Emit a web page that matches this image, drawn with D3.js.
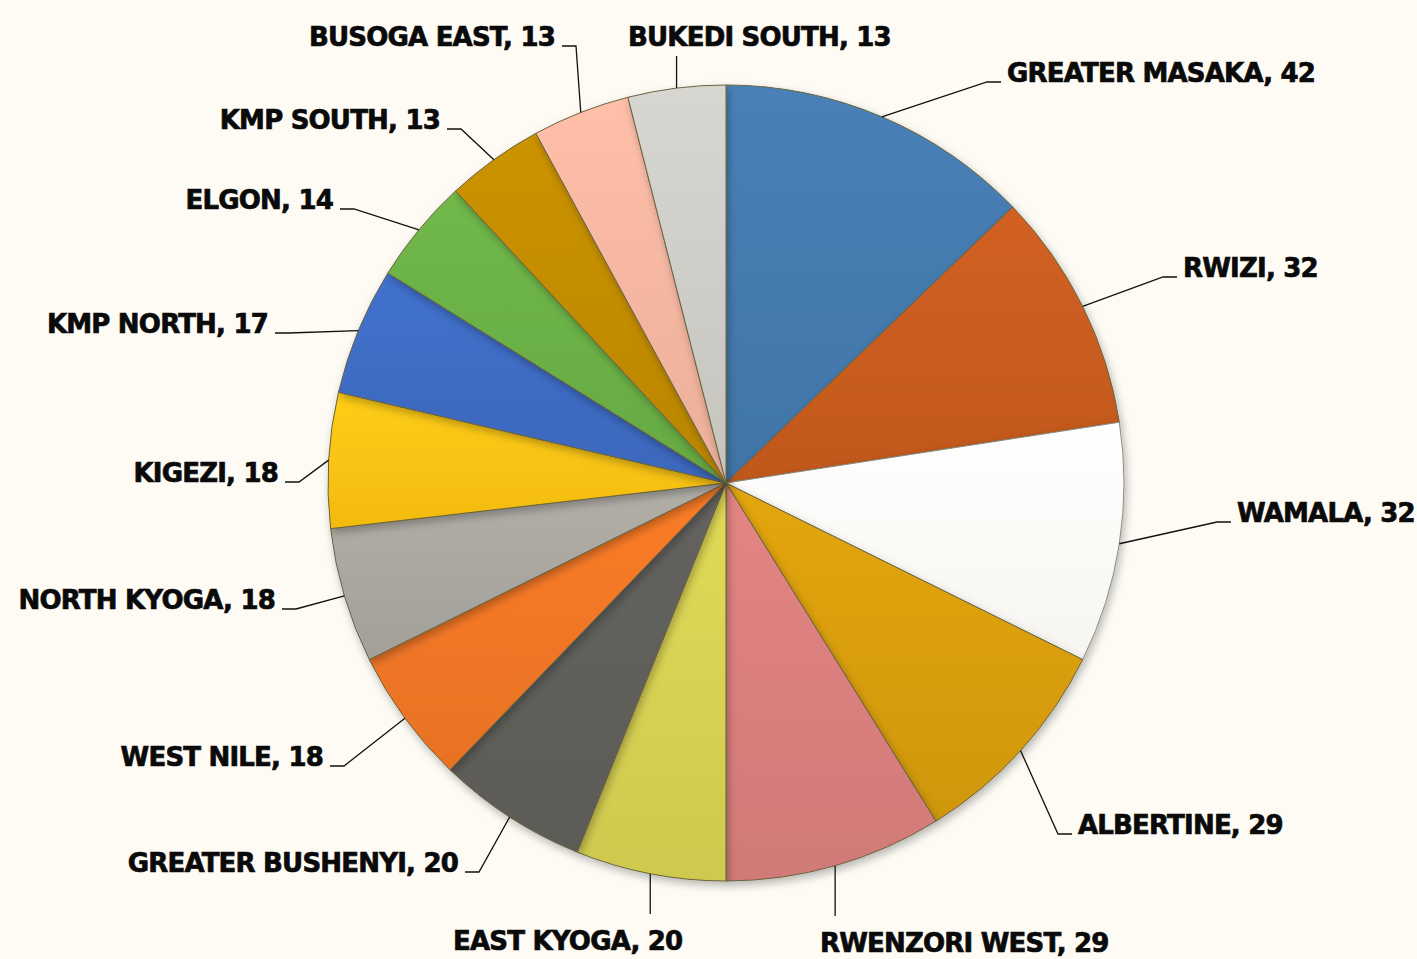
<!DOCTYPE html>
<html><head><meta charset="utf-8">
<script src="https://cdn.jsdelivr.net/npm/d3@7"></script>
<style>html,body{margin:0;padding:0;background:#fdfbf4;} svg{display:block}</style>
</head>
<body>
<svg id="chart" width="1417" height="959"></svg>
<script>
// ---- data ----
const regions = ["GREATER MASAKA","RWIZI","WAMALA","ALBERTINE","RWENZORI WEST","EAST KYOGA","GREATER BUSHENYI","WEST NILE","NORTH KYOGA","KIGEZI","KMP NORTH","ELGON","KMP SOUTH","BUSOGA EAST","BUKEDI SOUTH"];
const counts  = [42,32,32,29,29,20,20,18,18,18,17,14,13,13,13];
const colors  = ["#4479ad","#c75b1f","#fffef9","#d89d0c","#d87e7c","#d5d052","#5f5e5a","#ef7625","#a9a69f","#fcc212","#3e6bc2","#6aaf45","#c18b05","#f4b5a0","#cdcbc5"];

// ---- label layout (text edge x, baseline y, side) ----
const labelLayout = [
  {side:"right", x:1007, y:82},
  {side:"right", x:1183, y:277},
  {side:"right", x:1237, y:522},
  {side:"right", x:1078, y:834},
  {side:"below", x:820,  y:952},
  {side:"below", x:453,  y:950},
  {side:"left",  x:458,  y:872},
  {side:"left",  x:323,  y:766},
  {side:"left",  x:275,  y:609},
  {side:"left",  x:278,  y:482},
  {side:"left",  x:268,  y:333},
  {side:"left",  x:333,  y:209},
  {side:"left",  x:440,  y:129},
  {side:"left",  x:555,  y:46},
  {side:"above", x:628,  y:46}
];

const W = 1417, H = 959, cx = 726, cy = 483, R = 398;
const svg = d3.select("#chart");
const defs = svg.append("defs");
const f = defs.append("filter").attr("id","sh").attr("x","-20%").attr("y","-20%").attr("width","140%").attr("height","140%");
f.append("feDropShadow").attr("dx",2).attr("dy",4).attr("stdDeviation",4).attr("flood-color","#000").attr("flood-opacity",0.28);

colors.forEach((c,i)=>{
  const g = defs.append("linearGradient").attr("id","g"+i).attr("x1","0").attr("y1","0").attr("x2","0").attr("y2","1");
  g.append("stop").attr("offset","0%").attr("stop-color", d3.color(c).brighter(0.15));
  g.append("stop").attr("offset","100%").attr("stop-color", d3.color(c).darker(0.1));
});

const data = regions.map((r,i)=>({name:r, value:counts[i], i}));
const pie = d3.pie().sort(null).value(d=>d.value);
const arcs = pie(data);
const arc = d3.arc().innerRadius(0).outerRadius(R);

const gp = svg.append("g").attr("transform",`translate(${cx},${cy})`);
gp.selectAll("path.s").data(arcs).enter().append("path")
  .attr("class","s")
  .attr("d",arc)
  .attr("fill",d=>`url(#g${d.data.i})`)
  .attr("stroke",d=> d.data.i===2 ? "#8a8a80" : "#6a6440")
  .attr("stroke-width",1)
  .attr("stroke-linejoin","round")
  .attr("filter","url(#sh)");

// labels and leader lines
const lg = svg.append("g");
arcs.forEach((d,k)=>{
  const a = (d.startAngle + d.endAngle)/2;
  const px = cx + R*Math.sin(a), py = cy - R*Math.cos(a);
  const L = labelLayout[k];
  const txt = `${d.data.name}, ${d.data.value}`;
  let pts, anchor, tx;
  if (L.side === "right") {
    pts = [[px,py],[L.x-20,L.y],[L.x-6,L.y]]; anchor="start"; tx=L.x;
  } else if (L.side === "left") {
    pts = [[px,py],[L.x+21,L.y],[L.x+7,L.y]]; anchor="end"; tx=L.x;
  } else if (L.side === "below") {
    pts = [[px,py],[px,L.y-36]]; anchor="start"; tx=L.x;
  } else {
    pts = [[px,py],[px,L.y+10]]; anchor="start"; tx=L.x;
  }
  lg.append("path").attr("d", d3.line()(pts)).attr("fill","none").attr("stroke","#111").attr("stroke-width",1.3);
  lg.append("text").attr("x",tx).attr("y",L.y).attr("text-anchor",anchor)
    .attr("font-family","DejaVu Sans, Verdana, sans-serif").attr("font-weight","bold")
    .attr("font-size",26).attr("letter-spacing","-0.8px").attr("fill","#0a0a0a")
    .attr("stroke","#0a0a0a").attr("stroke-width",0.7).text(txt);
});
</script>
</body></html>
